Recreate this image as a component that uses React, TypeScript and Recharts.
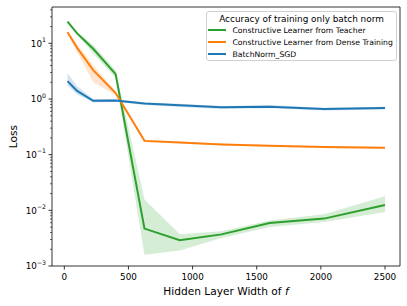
import React from "react";
import {
  ComposedChart,
  Line,
  Area,
  XAxis,
  YAxis,
  ReferenceArea,
  Legend,
} from "recharts";

const widths = [25, 100, 225, 400, 625, 900, 1225, 1600, 2025, 2500];

const teacherLoss = [24.5, 15.1, 8.0, 2.8, 0.0047, 0.0029, 0.0037, 0.0059, 0.0071, 0.0125];
const teacherLow = [23.5, 14.3, 6.6, 2.4, 0.0016, 0.0019, 0.0032, 0.005, 0.0062, 0.0093];
const teacherHigh = [25.5, 16, 9.3, 3.3, 0.0156, 0.0037, 0.0042, 0.0066, 0.0085, 0.018];

const denseLoss = [15.8, 8.3, 3.3, 1.28, 0.177, 0.166, 0.153, 0.144, 0.137, 0.133];
const denseLow = [15.0, 7.0, 2.0, 1.18, 0.168, 0.16, 0.148, 0.139, 0.132, 0.128];
const denseHigh = [16.6, 9.5, 4.1, 1.4, 0.186, 0.172, 0.158, 0.149, 0.142, 0.138];

const sgdLoss = [2.1, 1.4, 0.93, 0.94, 0.83, 0.77, 0.71, 0.73, 0.66, 0.69];
const sgdLow = [1.75, 1.2, 0.87, 0.88, 0.78, 0.72, 0.66, 0.68, 0.62, 0.65];
const sgdHigh = [2.9, 1.7, 1.0, 0.99, 0.87, 0.82, 0.75, 0.78, 0.7, 0.73];

const xTicks = [0, 500, 1000, 1500, 2000, 2500];
const yMajor = [0.001, 0.01, 0.1, 1, 10];
const yTicks = yMajor.flatMap((m) =>
  [1, 2, 3, 4, 5, 6, 7, 8, 9].map((k) => k * m).filter((v) => v <= 45)
);

const seriesNames = [
  "Constructive Learner from Teacher",
  "Constructive Learner from Dense Training",
  "BatchNorm_SGD",
];
const colors = ["#2ca02c", "#ff7f0e", "#1f77b4"];

const data = widths.map((w, i) => ({
  width: w,
  teacher: teacherLoss[i],
  teacherBand: [teacherLow[i], teacherHigh[i]],
  dense: denseLoss[i],
  denseBand: [denseLow[i], denseHigh[i]],
  sgd: sgdLoss[i],
  sgdBand: [sgdLow[i], sgdHigh[i]],
}));

const FONT = "DejaVu Sans";

const YTick = (props: any) => {
  const { x, y, payload } = props;
  const lg = Math.log10(payload.value);
  const e = Math.round(lg);
  const major = Math.abs(lg - e) < 1e-6;
  return (
    <g>
      <line
        x1={x}
        x2={x - (major ? 3.5 : 2)}
        y1={y}
        y2={y}
        stroke="#000"
        strokeWidth={major ? 0.8 : 0.6}
      />
      {major && (
        <text
          x={x - 6}
          y={y + 3.2}
          textAnchor="end"
          fontFamily={FONT}
          fontSize={8.8}
          fill="#000"
        >
          10
          <tspan dy={-4.5} fontSize={6.2}>
            {e < 0 ? "\u2212" + -e : String(e)}
          </tspan>
        </text>
      )}
    </g>
  );
};

const XTick = (props: any) => {
  const { x, y, payload } = props;
  return (
    <g>
      <line x1={x} x2={x} y1={y} y2={y + 3.5} stroke="#000" strokeWidth={0.8} />
      <text
        x={x}
        y={y + 13.5}
        textAnchor="middle"
        fontFamily={FONT}
        fontSize={8.8}
        fill="#000"
      >
        {payload.value}
      </text>
    </g>
  );
};

const LegendBox = () => (
  <div
    style={{
      width: 191,
      height: 50,
      border: "1px solid #d0d0d0",
      borderRadius: 3,
      background: "rgba(255,255,255,0.8)",
      fontFamily: FONT,
      boxSizing: "border-box",
      position: "relative",
    }}
  >
    <div
      style={{
        position: "absolute",
        left: 0,
        width: 189,
        top: 0.5,
        textAlign: "center",
        fontSize: 8.9,
        lineHeight: "12px",
        color: "#000",
        whiteSpace: "nowrap",
      }}
    >
      Accuracy of training only batch norm
    </div>
    {seriesNames.map((n, i) => (
      <div
        key={n}
        style={{
          position: "absolute",
          left: 1,
          top: 13 + i * 12.1,
          height: 10,
          display: "flex",
          alignItems: "center",
          whiteSpace: "nowrap",
        }}
      >
        <div style={{ width: 18, height: 2, background: colors[i] }} />
        <span style={{ marginLeft: 6.5, fontSize: 7.7, color: "#000" }}>{n}</span>
      </div>
    ))}
  </div>
);

export default function App() {
  return (
    <div
      style={{
        position: "absolute",
        left: 0,
        top: 0,
        width: 407,
        height: 306,
        background: "#fff",
      }}
    >
      <ComposedChart
        width={407}
        height={306}
        data={data}
        margin={{ top: 7, right: 7, bottom: 0, left: 0 }}
      >
        <XAxis
          dataKey="width"
          type="number"
          domain={[-96, 2617]}
          ticks={xTicks}
          interval={0}
          height={40}
          tickSize={0}
          tickMargin={0}
          axisLine={false}
          tickLine={false}
          tick={<XTick />}
          allowDataOverflow
        />
        <YAxis
          type="number"
          scale="log"
          domain={[0.001, 45]}
          ticks={yTicks}
          interval={0}
          width={52}
          tickSize={0}
          tickMargin={0}
          axisLine={false}
          tickLine={false}
          tick={<YTick />}
          allowDataOverflow
        />
        <Area
          dataKey="teacherBand"
          type="linear"
          stroke="none"
          fill={colors[0]}
          fillOpacity={0.2}
          isAnimationActive={false}
          legendType="none"
        />
        <Line
          dataKey="teacher"
          type="linear"
          stroke={colors[0]}
          strokeWidth={2}
          dot={false}
          isAnimationActive={false}
        />
        <Area
          dataKey="denseBand"
          type="linear"
          stroke="none"
          fill={colors[1]}
          fillOpacity={0.2}
          isAnimationActive={false}
          legendType="none"
        />
        <Line
          dataKey="dense"
          type="linear"
          stroke={colors[1]}
          strokeWidth={2}
          dot={false}
          isAnimationActive={false}
        />
        <Area
          dataKey="sgdBand"
          type="linear"
          stroke="none"
          fill={colors[2]}
          fillOpacity={0.2}
          isAnimationActive={false}
          legendType="none"
        />
        <Line
          dataKey="sgd"
          type="linear"
          stroke={colors[2]}
          strokeWidth={2}
          dot={false}
          isAnimationActive={false}
        />
        <ReferenceArea
          x1={-96}
          x2={2617}
          y1={0.001}
          y2={45}
          fill="none"
          stroke="#000"
          strokeWidth={0.8}
          ifOverflow="visible"
        />
        <Legend
          layout="vertical"
          align="center"
          verticalAlign="middle"
          content={<LegendBox />}
          wrapperStyle={{ left: 206, top: 11, width: 191, height: 50 }}
        />
        <text
          x={13}
          y={136.5}
          transform="rotate(-90 13 136.5)"
          textAnchor="middle"
          dominantBaseline="central"
          fontFamily={FONT}
          fontSize={10.6}
          fill="#000"
        >
          Loss
        </text>
        <text
          x={226}
          y={295}
          textAnchor="middle"
          fontFamily={FONT}
          fontSize={10.6}
          fill="#000"
        >
          Hidden Layer Width of <tspan fontStyle="italic">f</tspan>
        </text>
      </ComposedChart>
    </div>
  );
}
